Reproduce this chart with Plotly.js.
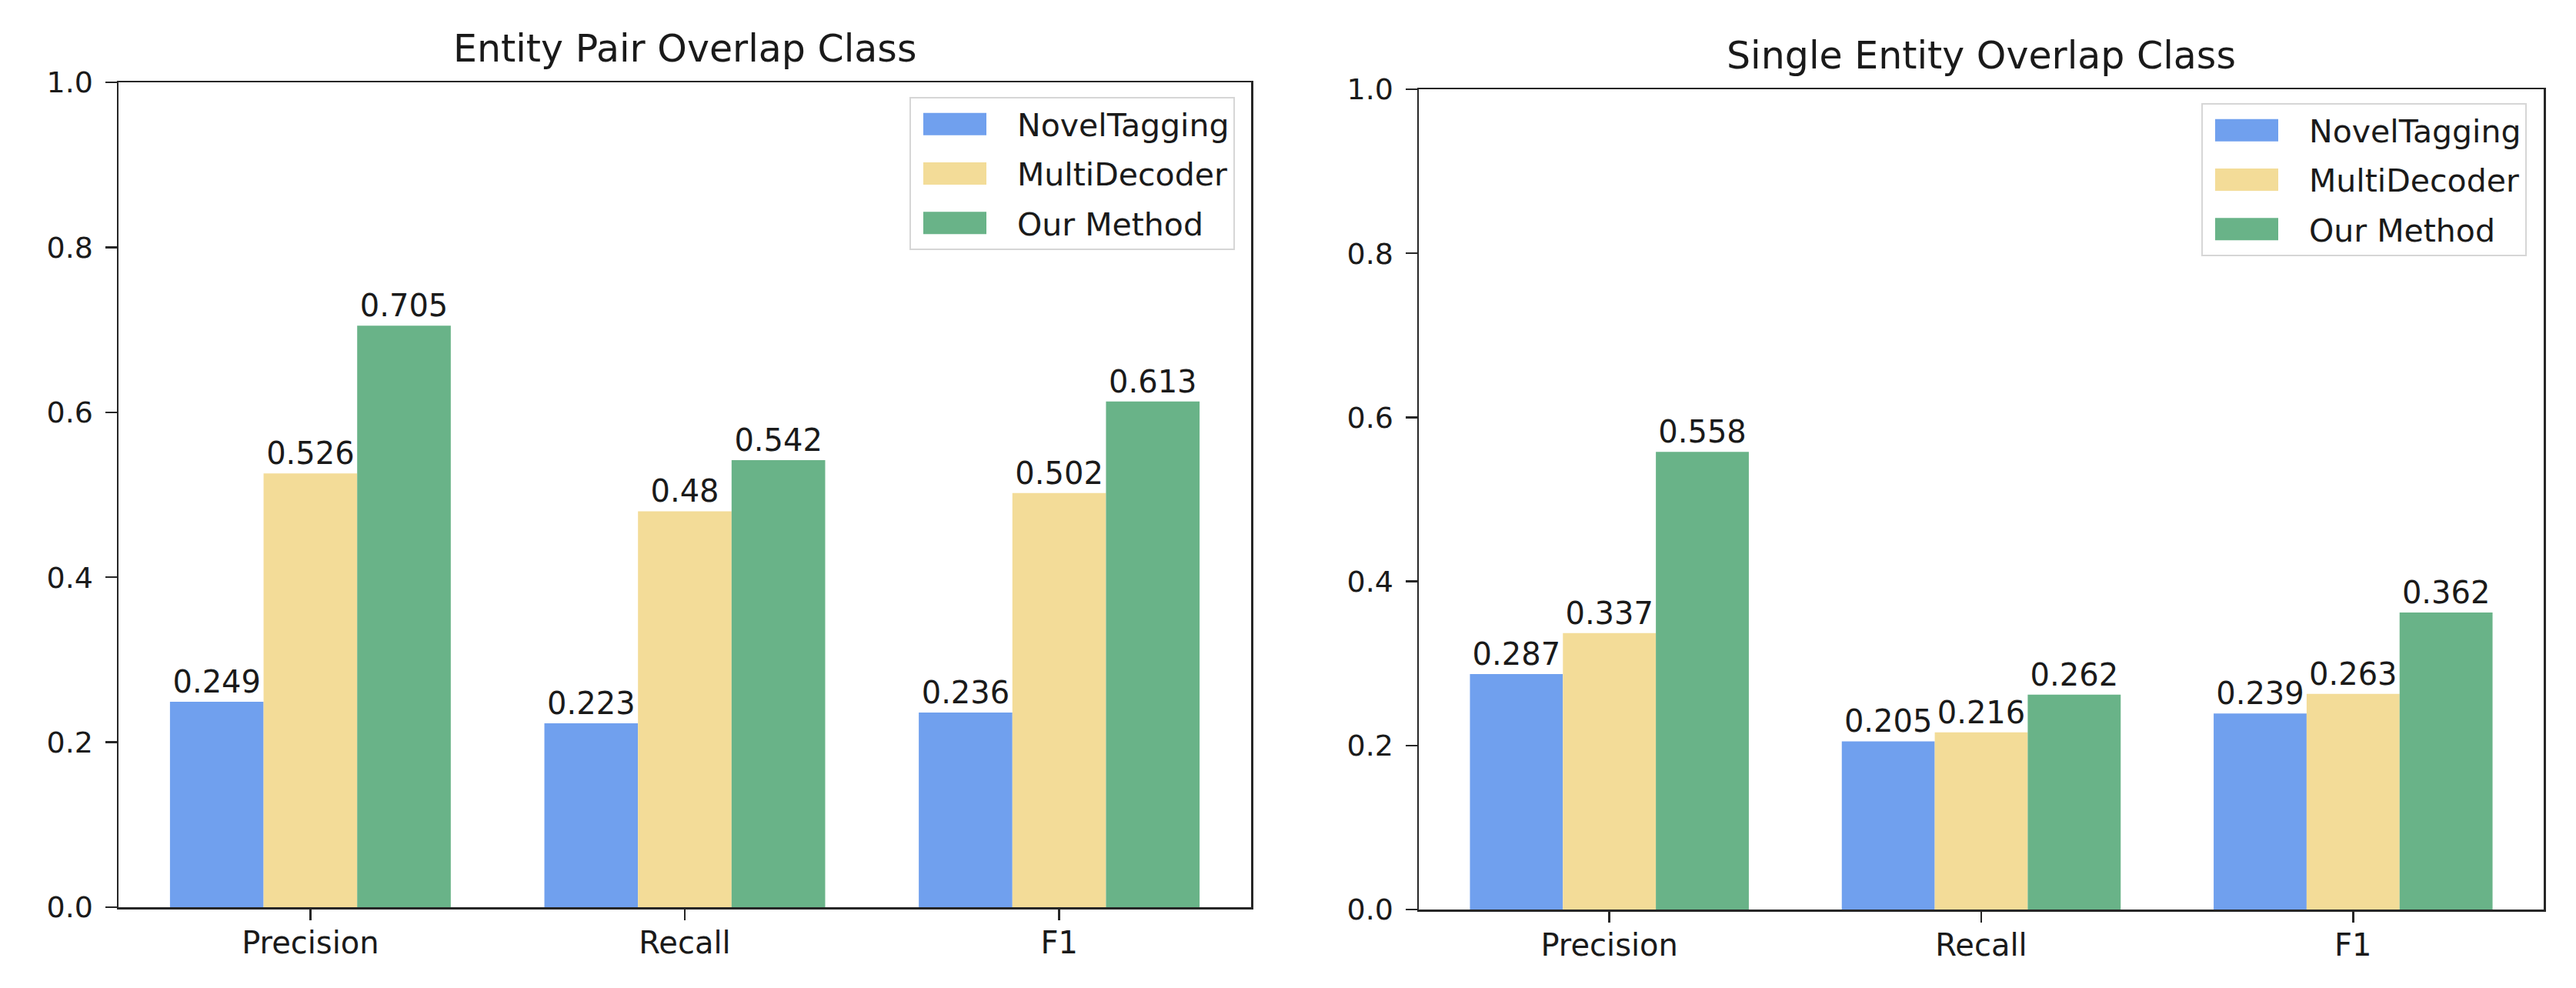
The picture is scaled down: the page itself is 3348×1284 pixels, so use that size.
<!DOCTYPE html>
<html>
<head>
<meta charset="utf-8">
<script src="https://cdn.plot.ly/plotly-3.0.1.min.js"></script>
<style>
  html, body { margin: 0; padding: 0; background: #ffffff; }
  #chart { width: 3348px; height: 1284px; }
</style>
</head>
<body>
<div id="chart"></div>
<script>
// ---- data ----
const categories = ['Precision', 'Recall', 'F1'];
const seriesNames = ['NovelTagging', 'MultiDecoder', 'Our Method'];
const pairNovelTagging = [0.249, 0.223, 0.236];
const pairMultiDecoder = [0.526, 0.48, 0.502];
const pairOurMethod = [0.705, 0.542, 0.613];
const singleNovelTagging = [0.287, 0.205, 0.239];
const singleMultiDecoder = [0.337, 0.216, 0.263];
const singleOurMethod = [0.558, 0.262, 0.362];
const yTickValues = [0, 0.2, 0.4, 0.6, 0.8, 1.0];
const yTickLabels = ['0.0', '0.2', '0.4', '0.6', '0.8', '1.0'];
const panelTitles = ['Entity Pair Overlap Class', 'Single Entity Overlap Class'];

// ---- style ----
const colors = ['#70a0ee', '#f3dc98', '#69b388'];
const FONT = 'DejaVu Sans, Liberation Sans, sans-serif';
const TXT = '#1a1a1a';
const AX = '#262626';

const pairSeries = [pairNovelTagging, pairMultiDecoder, pairOurMethod];
const singleSeries = [singleNovelTagging, singleMultiDecoder, singleOurMethod];

function makeTraces(seriesList, xa, ya, legendId) {
  return seriesList.map((vals, i) => ({
    type: 'bar',
    name: seriesNames[i],
    x: categories,
    y: vals,
    xaxis: xa,
    yaxis: ya,
    legend: legendId,
    legendgroup: legendId + '_' + i,
    marker: { color: colors[i], line: { width: 0 } },
    text: vals.map(v => String(v)),
    textposition: 'outside',
    constraintext: 'none',
    cliponaxis: false,
    textfont: { family: FONT, size: 40, color: TXT },
    hoverinfo: 'x+y+name'
  }));
}

const data = [
  ...makeTraces(pairSeries, 'x', 'y', 'legend'),
  ...makeTraces(singleSeries, 'x2', 'y2', 'legend2')
];

function xAxis(domain, anchor) {
  return {
    domain: domain, anchor: anchor, type: 'category',
    range: [-0.5125, 2.5125],
    showline: true, mirror: true, linecolor: AX, linewidth: 2.5,
    ticks: 'outside', ticklen: 14, tickwidth: 2.5, tickcolor: AX,
    ticklabelstandoff: -5,
    showgrid: false, zeroline: false,
    tickfont: { family: FONT, size: 40, color: TXT },
    fixedrange: true
  };
}
function yAxis(domain, anchor) {
  return {
    domain: domain, anchor: anchor,
    range: [0, 1],
    tickvals: yTickValues, ticktext: yTickLabels,
    showline: true, mirror: true, linecolor: AX, linewidth: 2.5,
    ticks: 'outside', ticklen: 15, tickwidth: 2.5, tickcolor: AX,
    ticklabelstandoff: 8,
    showgrid: false, zeroline: false,
    tickfont: { family: FONT, size: 38, color: TXT },
    fixedrange: true
  };
}

const xd1 = [154 / 3348, 1626 / 3348];
const yd1 = [1 - 1179 / 1284, 1 - 107 / 1284];
const xd2 = [1844 / 3348, 3306 / 3348];
const yd2 = [1 - 1182 / 1284, 1 - 116 / 1284];

function legendCfg(x, y) {
  return {
    x: x, y: y, xref: 'paper', yref: 'paper',
    xanchor: 'right', yanchor: 'top',
    bgcolor: '#ffffff', bordercolor: '#d6d6d6', borderwidth: 2,
    font: { family: FONT, size: 41, color: TXT },
    itemwidth: 128, tracegroupgap: 8, traceorder: 'grouped'
  };
}

const layout = {
  width: 3348, height: 1284,
  margin: { l: 0, r: 0, t: 0, b: 0 },
  paper_bgcolor: '#ffffff', plot_bgcolor: '#ffffff',
  font: { family: FONT, size: 40, color: TXT },
  barmode: 'group', bargap: 0.25, bargroupgap: 0,
  showlegend: true,
  xaxis: xAxis(xd1, 'y'),
  yaxis: yAxis(yd1, 'x'),
  xaxis2: xAxis(xd2, 'y2'),
  yaxis2: yAxis(yd2, 'x2'),
  legend: legendCfg(1605 / 3348, 1 - 126 / 1284),
  legend2: legendCfg(3284 / 3348, 1 - 134 / 1284),
  annotations: [
    { text: panelTitles[0], xref: 'paper', yref: 'paper',
      x: (xd1[0] + xd1[1]) / 2, y: 1 - 63 / 1284, xanchor: 'center', yanchor: 'middle',
      showarrow: false, font: { family: FONT, size: 49, color: TXT } },
    { text: panelTitles[1], xref: 'paper', yref: 'paper',
      x: (xd2[0] + xd2[1]) / 2, y: 1 - 72 / 1284, xanchor: 'center', yanchor: 'middle',
      showarrow: false, font: { family: FONT, size: 49, color: TXT } }
  ]
};

function enlargeSwatches() {
  // matplotlib-like 82x29 legend patches
  document.querySelectorAll('g.legendpoints path').forEach(p => {
    p.setAttribute('d', 'M29,14.5H-53V-14.5H29Z');
  });
}

Plotly.newPlot('chart', data, layout, { staticPlot: true, displayModeBar: false }).then(() => {
  enlargeSwatches();
  setTimeout(enlargeSwatches, 50);
});
</script>
</body>
</html>
